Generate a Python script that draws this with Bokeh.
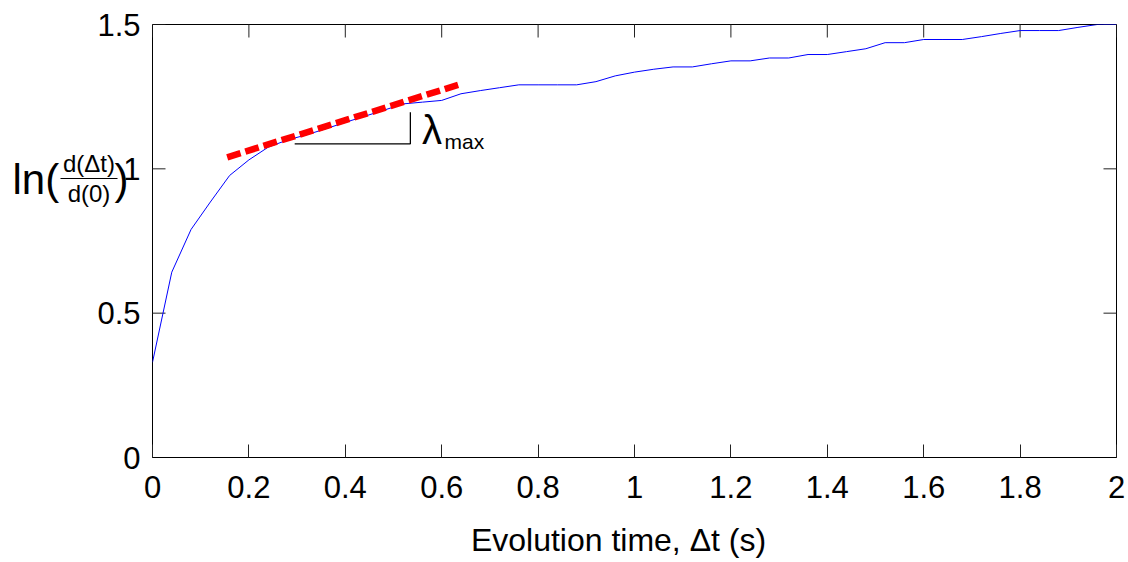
import math
from bokeh.plotting import figure
from bokeh.layouts import row
from bokeh.models import Range1d, FixedTicker, Label
from bokeh.core.properties import value
from bokeh.embed import file_html
from bokeh.resources import INLINE

# ---- data ----
evolution_time = [0.00, 0.04, 0.08, 0.12, 0.16, 0.20, 0.24, 0.28, 0.32, 0.36,
                  0.40, 0.44, 0.48, 0.52, 0.56, 0.60, 0.64, 0.68, 0.72, 0.76,
                  0.80, 0.84, 0.88, 0.92, 0.96, 1.00, 1.04, 1.08, 1.12, 1.16,
                  1.20, 1.24, 1.28, 1.32, 1.36, 1.40, 1.44, 1.48, 1.52, 1.56,
                  1.60, 1.64, 1.68, 1.72, 1.76, 1.80, 1.84, 1.88, 1.92, 1.96,
                  2.00]
ln_divergence = [0.330, 0.642, 0.790, 0.885, 0.977, 1.031, 1.075, 1.100, 1.118, 1.139,
                 1.161, 1.182, 1.203, 1.225, 1.231, 1.237, 1.260, 1.271, 1.281, 1.291,
                 1.291, 1.291, 1.291, 1.302, 1.322, 1.335, 1.345, 1.353, 1.353, 1.364,
                 1.374, 1.374, 1.384, 1.384, 1.396, 1.396, 1.406, 1.416, 1.437, 1.437,
                 1.448, 1.448, 1.448, 1.458, 1.469, 1.479, 1.479, 1.479, 1.490, 1.500,
                 1.500]

# fitted slope (lambda_max) line
fit_x = [0.155, 0.636]
fit_y = [1.040, 1.292]

# slope triangle marker
marker_x = [0.295, 0.535, 0.535]
marker_y = [1.0866, 1.0866, 1.196]

x_ticks = [0, 0.2, 0.4, 0.6, 0.8, 1, 1.2, 1.4, 1.6, 1.8, 2]
x_tick_labels = ["0", "0.2", "0.4", "0.6", "0.8", "1", "1.2", "1.4", "1.6", "1.8", "2"]
y_ticks = [0, 0.5, 1, 1.5]
y_tick_labels = ["0", "0.5", "1", "1.5"]

X_MIN, X_MAX = 0, 2
Y_MIN, Y_MAX = 0, 1.5

FONT = "Liberation Sans"

# ---- layout constants ----
TOTAL_H = 562
LEFT_W = 141          # width of the panel holding the y-axis texts
FRAME_W, FRAME_H = 964, 433
TOP_B, BOTTOM_B = 24, 105

# ---------------- main plot ----------------
p = figure(frame_width=FRAME_W, frame_height=FRAME_H,
           x_range=Range1d(X_MIN, X_MAX), y_range=Range1d(Y_MIN, Y_MAX),
           y_axis_location=None,
           output_backend="svg", toolbar_location=None,
           min_border_left=11, min_border_right=12,
           min_border_top=TOP_B, min_border_bottom=BOTTOM_B)
p.frame_align = False
p.xgrid.visible = False
p.ygrid.visible = False
p.outline_line_color = "black"
p.outline_line_width = 1
p.background_fill_color = "white"
p.border_fill_color = "white"

xax = p.below[0]
xax.ticker = FixedTicker(ticks=x_ticks)
xax.major_label_overrides = {t: l for t, l in zip(x_ticks, x_tick_labels)}
xax.major_tick_in = 13
xax.major_tick_out = 0
xax.minor_tick_in = 0
xax.minor_tick_out = 0
xax.major_tick_line_color = "#222222"
xax.axis_line_color = "black"
xax.major_label_text_font = FONT
xax.major_label_text_font_size = "31px"
xax.major_label_text_color = "black"
xax.major_label_standoff = 18
# trailing em space nudges the centred label slightly left, as in the reference
xax.axis_label = "Evolution time, \u0394t (s)\u2003"
xax.axis_label_text_font = FONT
xax.axis_label_text_font_style = "normal"
xax.axis_label_text_font_size = "32px"
xax.axis_label_text_color = "black"
xax.axis_label_standoff = 21

# inward ticks on the left, top and right edges (box style)
p.scatter([X_MIN] * len(y_ticks), y_ticks, marker="dash", size=26,
          line_color="#222222", line_width=1)
p.scatter(x_ticks, [Y_MAX] * len(x_ticks), marker="dash", size=26,
          angle=math.pi / 2, line_color="#222222", line_width=1)
p.scatter([X_MAX] * len(y_ticks), y_ticks, marker="dash", size=26,
          line_color="#222222", line_width=1)

# data
p.line(evolution_time, ln_divergence, line_color="#0000ff", line_width=1)
p.line(marker_x, marker_y, line_color="black", line_width=1.3)
p.line(fit_x, fit_y, line_color="#ff0000", line_width=6.5, line_dash="14 5")

# lambda_max annotation
p.add_layout(Label(x=0.559, y=1.136, text="\u03bb", text_font=FONT,
                   text_font_size="40px", text_color="black",
                   text_baseline="alphabetic"))
p.add_layout(Label(x=0.606, y=1.094, text="max", text_font=FONT,
                   text_font_size="21px", text_color="black",
                   text_baseline="alphabetic"))

# ---------------- left panel: y tick labels and y-axis label ----------------
ppu = FRAME_H / (Y_MAX - Y_MIN)
lab_y0 = Y_MIN - (TOTAL_H - TOP_B - FRAME_H) / ppu
lab_y1 = Y_MAX + TOP_B / ppu
lab = figure(width=LEFT_W, height=TOTAL_H,
             x_range=Range1d(0, LEFT_W), y_range=Range1d(lab_y0, lab_y1),
             x_axis_location=None, y_axis_location=None,
             output_backend="svg", toolbar_location=None,
             min_border=0)
lab.frame_align = False
lab.xgrid.visible = False
lab.ygrid.visible = False
lab.outline_line_color = None
lab.background_fill_color = "white"
lab.border_fill_color = "white"

# y tick labels
lab.text(x=[LEFT_W - 1] * len(y_ticks), y=y_ticks, text=y_tick_labels,
         text_font=value(FONT), text_font_size="31px", text_color="black",
         text_align="right", text_baseline="middle")

# y-axis label ln( d(Δt) / d(0) )
lab.text(x=[12], y=[0.963], text=["ln("], text_font=value(FONT),
         text_font_size="42px", text_color="black", text_baseline="alphabetic")
lab.text(x=[114], y=[0.963], text=[")"], text_font=value(FONT),
         text_font_size="42px", text_color="black", text_baseline="alphabetic")
lab.text(x=[88.5], y=[1.018], text=["d(\u0394t)"], text_font=value(FONT),
         text_font_size="24px", text_color="black", text_align="center",
         text_baseline="alphabetic")
lab.text(x=[88.5], y=[0.915], text=["d(0)"], text_font=value(FONT),
         text_font_size="24px", text_color="black", text_align="center",
         text_baseline="alphabetic")
lab.segment(x0=[60], y0=[0.9665], x1=[117], y1=[0.9665],
            line_color="black", line_width=1.2)

layout = row(lab, p, spacing=0)
open("out.html", "w").write(file_html(layout, INLINE))
